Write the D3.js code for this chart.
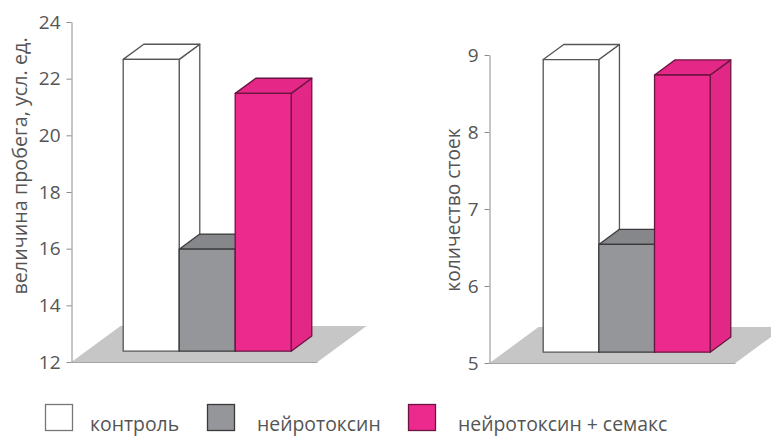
<!DOCTYPE html>
<html>
<head>
<meta charset="utf-8">
<script src="https://cdn.jsdelivr.net/npm/d3@7"></script>
<style>
  html, body { margin: 0; padding: 0; background: #fff; }
  svg { display: block; }
  text { font-family: "Open Sans", "Noto Sans", sans-serif; fill: #555; }
</style>
</head>
<body>
<svg id="chart" width="771" height="437"></svg>
<script>
// Groups compared in both panels
const categories = ["контроль", "нейротоксин", "нейротоксин + семакс"];

// Left panel: run length, arbitrary units
const runValues = [22.3, 15.6, 21.1];
const runTicks = [12, 14, 16, 18, 20, 22, 24];
const runTitle = "величина пробега, усл. ед.";

// Right panel: number of rearings
const standValues = [8.8, 6.4, 8.6];
const standTicks = [5, 6, 7, 8, 9];
const standTitle = "количество стоек";

// Face colours per group: front, top, side, outline
const palette = [
  { front: "#ffffff", top: "#ffffff", side: "#ffffff", stroke: "#555555" },
  { front: "#949699", top: "#85878a", side: "#8a8c8f", stroke: "#3a3a3a" },
  { front: "#ec2a8e", top: "#e52888", side: "#e22787", stroke: "#6a1541" }
];

const svg = d3.select("#chart");

// Oblique projection of the floor depth
const FLOOR_DX = 49, FLOOR_DY = -36;
const BAR_Z0 = 0.30, BAR_Z1 = 0.72;   // bar depth span inside the floor

function drawPanel(opt) {
  const g = svg.append("g");
  const ax = opt.axisX;
  const ticks = opt.ticks;
  const y = d3.scaleLinear()
    .domain([d3.min(ticks), d3.max(ticks)])
    .range([opt.yBottom, opt.yTop]);
  const x = d3.scaleBand()
    .domain(categories)
    .range([ax + opt.barStart, ax + opt.barStart + opt.barSpan])
    .paddingInner(0).paddingOuter(0);

  const y0 = y(d3.min(ticks));

  // floor
  const floorW = opt.floorWidth;
  g.append("polygon")
    .attr("points", [
      [ax, y0], [ax + floorW, y0],
      [ax + floorW + FLOOR_DX, y0 + FLOOR_DY], [ax + FLOOR_DX, y0 + FLOOR_DY]
    ].map(p => p.join(",")).join(" "))
    .attr("fill", "#c6c6c6");
  g.append("line")
    .attr("x1", ax).attr("x2", ax + floorW)
    .attr("y1", y0 + 0.5).attr("y2", y0 + 0.5)
    .attr("stroke", "#a5a5a5").attr("stroke-width", 1.2);

  // bars, painted left to right
  const fx = BAR_Z0 * FLOOR_DX, fy = BAR_Z0 * FLOOR_DY;
  const ddx = (BAR_Z1 - BAR_Z0) * FLOOR_DX, ddy = (BAR_Z1 - BAR_Z0) * FLOOR_DY;
  const pts = a => a.map(p => p.join(",")).join(" ");

  opt.values.forEach((v, i) => {
    const c = palette[i];
    const xl = x(categories[i]) + fx;
    const xr = x(categories[i]) + x.bandwidth() + fx;
    const yt = y(v) + fy;
    const yb = y0 + fy;
    const bar = g.append("g")
      .attr("stroke", c.stroke).attr("stroke-width", 1.3)
      .attr("stroke-linejoin", "round");
    bar.append("polygon")
      .attr("points", pts([[xr, yt], [xr + ddx, yt + ddy], [xr + ddx, yb + ddy], [xr, yb]]))
      .attr("fill", c.side);
    bar.append("polygon")
      .attr("points", pts([[xl, yt], [xr, yt], [xr + ddx, yt + ddy], [xl + ddx, yt + ddy]]))
      .attr("fill", c.top);
    bar.append("rect")
      .attr("x", xl).attr("y", yt)
      .attr("width", xr - xl).attr("height", yb - yt)
      .attr("fill", c.front);
  });

  // value axis
  const axis = d3.axisLeft(y)
    .tickValues(ticks)
    .tickSize(5).tickSizeOuter(0).tickPadding(6)
    .tickFormat(d3.format("d"));
  const ag = g.append("g")
    .attr("transform", `translate(${ax},0)`)
    .call(axis);
  ag.select(".domain").attr("stroke", "#8c8c8c");
  ag.selectAll(".tick line").attr("stroke", "#8c8c8c");
  ag.selectAll(".tick text")
    .attr("font-size", 19)
    .attr("font-family", "'Open Sans', sans-serif")
    .attr("fill", "#555");

  // axis title
  g.append("text")
    .attr("transform", `translate(${opt.titleX},${opt.titleY}) rotate(-90)`)
    .attr("text-anchor", "middle")
    .attr("dominant-baseline", "central")
    .attr("font-size", opt.titleSize)
    .text(opt.title);
}

drawPanel({
  axisX: 71.5, yTop: 22, yBottom: 362,
  ticks: runTicks, values: runValues, title: runTitle,
  titleX: 19, titleY: 166, titleSize: 19.8,
  barStart: 37, barSpan: 168, floorWidth: 246
});

drawPanel({
  axisX: 489.5, yTop: 55, yBottom: 363,
  ticks: standTicks, values: standValues, title: standTitle,
  titleX: 452, titleY: 210, titleSize: 19.2,
  barStart: 39, barSpan: 167, floorWidth: 246
});

// legend
const legendX = [45, 207, 408];
const legendTextX = [90, 257, 458];
const legend = svg.append("g");
categories.forEach((name, i) => {
  const lx = legendX[i];
  legend.append("rect")
    .attr("x", lx + 0.5).attr("y", 404.5)
    .attr("width", 27).attr("height", 26)
    .attr("fill", palette[i].front)
    .attr("stroke", i === 0 ? "#777" : palette[i].stroke)
    .attr("stroke-width", 1.3);
  legend.append("text")
    .attr("x", legendTextX[i]).attr("y", 431)
    .attr("font-size", 19.4)
    .text(name);
});
</script>
</body>
</html>
